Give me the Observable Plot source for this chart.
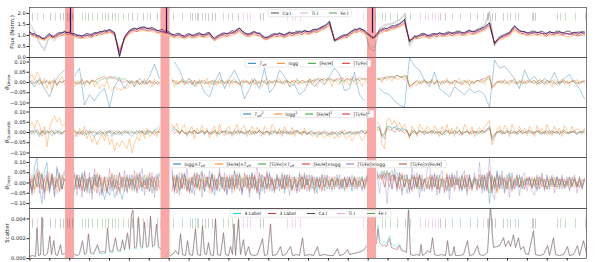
<!DOCTYPE html>
<html><head><meta charset="utf-8">
<script src="https://cdn.jsdelivr.net/npm/d3@7"></script>
<script src="https://cdn.jsdelivr.net/npm/@observablehq/plot@0.6"></script>
<style>
body{margin:0;background:#fff;}
#chart svg{display:block;}
</style>
</head><body><div id="chart"></div>
<script>
// ---------- DATA (spectral pixel units along x, 0..557) ----------
const bands = [[36,45],[131.5,140.5],[338,347]];
const spikePix = [41, 137, 343];
const caI = [3,21,31,34,38,40,43,59,79,83,103,114,128,163,169,173,176,179,183,186,209,231,234,376,411,416,459,463,466,474,503,504,506];
const tiI = [8,118,131,214,218,221,258,263,266,271,334,391,396,399,403,406,409,454];
const feI = [14,26,53,56,63,68,73,76,86,89,94,99,108,121,144,153,161,166,168,194,199,203,346,353,356,361,368,381,423,431,441,448,458,478,481,486,489,528,531,536,546,556];

const fluxTicks = [0,0.5,1,1.5,2];
const thetaTicks = [-0.1,-0.05,0,0.05,0.1];
const scatterTicks = [0,0.002,0.004];

// Panel 1: spectra (gray, M2, M4 every 5 px; M1, M3 every 2.5 px)
const fluxGray1 = [1.6,1.2,0.7,0.3,0.95,0.75,1.05,1.2,1.1,1.0,0.95,1.02,1.0,1.1,
1.12,1.18,1.22,1.05,0.02,0.85,1.2,1.32,1.35,1.38,1.3,1.25,1.18,1.15,
1.1,0.95,1.05,0.9,1.05,0.95,1.05,0.98,1.08,0.75,0.98,1.1,1.12,1.18,
1.35,1.08,1.02,1.18,1.05,0.85,0.92,1.05,1.1,0.98,1.15,1.12,1.18,1.22,
1.18,1.28,1.35,1.48,1.68,0.7,0.85,0.98,1.12,1.28,1.35,1.22,0.4,0.3,
1.3,1.45,1.5,1.55,1.7,2.0,0.5,0.9,1.0,1.08,0.95,1.05,1.12,1.02,
1.15,1.12,1.2,1.12,1.25,1.2,1.35,1.5,2.1,0.5,0.85,1.0,1.12,1.45,
1.22,1.18,1.1,1.18,1.15,1.05,1.18,1.12,1.18,1.12,1.05,1.15,1.18,1.12];
const fluxGray2 = [1.4,1.15,0.6,0.45,1.0,0.85,1.1,1.18,1.1,1.05,1.0,1.0,1.05,1.12,
1.15,1.22,1.28,1.12,0.05,0.9,1.22,1.3,1.33,1.36,1.32,1.27,1.2,1.15,
1.08,1.0,1.02,0.92,1.02,0.98,1.1,1.0,1.12,0.8,1.0,1.06,1.1,1.15,
1.32,1.12,1.05,1.15,1.1,0.88,0.95,1.02,1.1,1.02,1.12,1.1,1.15,1.2,
1.15,1.25,1.32,1.42,1.62,0.75,0.88,1.0,1.1,1.25,1.32,1.2,0.5,0.45,
1.35,1.5,1.55,1.6,1.72,1.9,0.6,0.92,1.0,1.05,0.98,1.05,1.1,1.05,
1.12,1.1,1.15,1.1,1.22,1.18,1.3,1.42,1.95,0.55,0.88,1.0,1.1,1.42,
1.2,1.15,1.12,1.15,1.12,1.08,1.15,1.1,1.15,1.1,1.05,1.12,1.15,1.1];
const fluxM1 = [1.19,1.05,1.09,0.98,0.99,0.85,0.89,1.0,1.09,0.92,0.99,1.08,1.14,1.1,1.19,1.12,1.16,1.08,1.09,1.0,
1.02,0.95,1.04,1.1,1.06,0.98,1.14,1.08,1.19,1.15,1.24,1.16,1.29,1.2,1.14,0.6,0.05,0.5,0.94,1.1,
1.24,1.3,1.34,1.25,1.36,1.38,1.39,1.3,1.34,1.36,1.32,1.22,1.24,1.28,1.19,1.22,1.14,1.05,1.04,1.1,
1.09,1.0,0.99,1.06,1.09,0.98,1.04,1.1,1.12,1.02,1.06,1.12,1.14,0.95,0.89,0.98,1.04,1.1,1.12,1.05,
1.14,1.22,1.19,1.28,1.34,1.2,1.14,1.05,1.09,1.15,1.19,1.08,1.12,1.0,0.94,0.9,0.99,1.05,1.09,1.02,
1.12,1.06,1.04,1.1,1.16,1.08,1.14,1.2,1.19,1.12,1.24,1.18,1.19,1.25,1.29,1.22,1.34,1.4,1.44,1.5,
1.64,1.2,0.75,0.85,0.94,1.0,1.04,0.98,1.14,1.2,1.29,1.22,1.34,1.28,1.24,1.12,1.04,0.9,0.94,1.1,
1.24,1.3,1.34,1.28,1.39,1.45,1.44,1.5,1.54,1.62,1.74,1.2,0.7,0.85,0.99,0.92,1.04,1.1,1.09,1.0,
1.02,1.08,1.09,1.02,1.14,1.06,1.09,1.15,1.16,1.08,1.14,1.2,1.19,1.1,1.14,1.2,1.24,1.16,1.19,1.26,
1.29,1.35,1.39,1.48,1.59,1.1,0.6,0.8,0.94,1.0,1.04,1.1,1.14,1.3,1.44,1.32,1.24,1.16,1.19,1.1,
1.14,1.2,1.19,1.1,1.16,1.2,1.12,1.05,1.19,1.12,1.14,1.2,1.19,1.1,1.14,1.2,1.19,1.12,1.14,1.06,
1.09,1.18,1.16];
const fluxM2 = [1.15,1.05,0.95,0.85,1.05,0.95,1.1,1.15,1.12,1.05,0.98,1.0,1.02,1.1,
1.15,1.2,1.25,1.1,0.1,0.9,1.2,1.3,1.32,1.35,1.3,1.28,1.2,1.15,
1.1,1.0,1.05,0.95,1.05,1.0,1.08,1.02,1.1,0.85,1.0,1.08,1.1,1.15,
1.3,1.1,1.05,1.15,1.08,0.9,0.95,1.05,1.08,1.0,1.12,1.1,1.15,1.2,
1.15,1.25,1.3,1.4,1.6,0.8,0.9,1.0,1.1,1.25,1.3,1.2,1.0,0.9,
1.2,1.3,1.35,1.4,1.5,1.7,0.75,0.95,1.0,1.05,0.98,1.05,1.1,1.05,
1.12,1.1,1.15,1.1,1.2,1.15,1.25,1.35,1.55,0.65,0.9,1.0,1.1,1.4,
1.2,1.15,1.1,1.15,1.12,1.08,1.15,1.1,1.15,1.1,1.05,1.12,1.15,1.1];
const fluxM3 = [1.09,1.02,0.99,0.94,0.91,0.86,0.82,0.92,0.99,0.94,0.9,0.98,1.04,1.0,1.09,1.04,1.06,1.0,0.99,0.95,
0.92,0.9,0.94,0.99,0.96,0.92,1.04,1.0,1.09,1.06,1.14,1.1,1.19,1.12,1.05,0.7,0.25,0.6,0.86,1.02,
1.14,1.2,1.24,1.18,1.26,1.28,1.29,1.22,1.24,1.26,1.22,1.15,1.14,1.18,1.09,1.12,1.04,0.98,0.94,1.0,
0.99,0.92,0.9,0.96,0.99,0.92,0.94,1.0,1.02,0.95,0.96,1.02,1.04,0.88,0.8,0.9,0.94,1.0,1.02,0.97,
1.04,1.1,1.09,1.16,1.24,1.12,1.04,0.98,0.99,1.05,1.09,1.0,1.02,0.92,0.85,0.84,0.9,0.96,0.99,0.94,
1.02,0.97,0.94,1.0,1.06,1.0,1.04,1.1,1.09,1.04,1.14,1.1,1.09,1.15,1.19,1.14,1.24,1.3,1.34,1.4,
1.52,1.15,0.78,0.8,0.85,0.92,0.94,0.9,1.04,1.1,1.19,1.14,1.24,1.2,1.14,1.05,0.96,0.86,0.88,1.0,
1.14,1.2,1.24,1.2,1.29,1.34,1.34,1.4,1.44,1.5,1.6,1.15,0.78,0.82,0.9,0.86,0.94,1.0,0.99,0.94,
0.92,0.98,0.99,0.95,1.04,0.98,0.99,1.05,1.06,1.0,1.04,1.1,1.09,1.02,1.04,1.1,1.14,1.08,1.09,1.15,
1.19,1.24,1.29,1.38,1.47,1.05,0.68,0.76,0.85,0.92,0.94,1.0,1.04,1.2,1.32,1.22,1.14,1.08,1.09,1.02,
1.04,1.1,1.09,1.02,1.06,1.1,1.02,0.97,1.09,1.04,1.04,1.1,1.09,1.02,1.04,1.1,1.09,1.03,1.04,0.98,
0.99,1.08,1.06];
const fluxM4 = [1.03,0.93,0.85,0.77,0.93,0.85,0.98,1.03,1.0,0.93,0.86,0.88,0.9,0.98,
1.03,1.08,1.13,1.0,0.35,0.8,1.08,1.18,1.2,1.23,1.18,1.16,1.08,1.03,
0.98,0.88,0.93,0.85,0.93,0.88,0.96,0.9,0.98,0.76,0.88,0.96,0.98,1.03,
1.18,0.98,0.93,1.03,0.96,0.8,0.85,0.93,0.96,0.88,1.0,0.98,1.03,1.08,
1.03,1.13,1.18,1.28,1.45,0.8,0.82,0.88,0.98,1.13,1.18,1.08,0.92,0.86,
1.08,1.18,1.23,1.28,1.38,1.52,0.8,0.85,0.88,0.93,0.86,0.93,0.98,0.93,
1.0,0.98,1.03,0.98,1.08,1.03,1.13,1.23,1.4,0.72,0.8,0.88,0.98,1.25,
1.08,1.03,0.98,1.03,1.0,0.96,1.03,0.98,1.03,0.98,0.93,1.0,1.03,0.98];

// Panel 2: theta linear (T_eff every 5 px, others every 2.5 px)
const linTeff = [.01,-.02,.02,-.03,-.07,.0,.04,.06,null,.03,.07,-.11,-.06,-.09,
-.05,-.03,-.12,-.02,.02,-.03,.01,-.02,.02,-.01,.03,.09,.02,null,
null,.1,.06,.0,.02,-.02,.01,-.05,-.07,.0,.05,-.03,.02,.06,
.01,-.08,-.03,.02,-.03,.07,-.05,-.02,.06,.03,-.02,-.01,-.06,-.04,
.01,-.02,.01,-.01,.03,.07,.04,-.04,-.03,.05,-.06,-.09,null,null,
-.03,-.05,-.06,-.09,-.11,-.12,.12,.08,.06,.01,-.02,.05,-.03,-.05,
-.07,-.02,-.04,-.06,-.03,-.05,-.04,-.06,-.12,.11,.07,.08,.05,.02,
-.03,.06,.01,.03,-.01,.02,.0,.05,-.01,.02,.04,.0,-.03,-.08];
const linLogg = [.02,.04,.01,.05,.03,-.01,.02,-.03,.01,-.04,.02,-.02,.01,.03,-.01,null,null,null,-.02,.01,
-.01,.02,-.02,.01,-.01,.015,-.02,.0,-.03,-.01,-.02,.01,-.03,-.04,-.02,-.035,-.03,-.04,-.02,-.03,
-.01,.005,-.02,.01,.0,-.015,.02,-.01,.01,-.02,.015,.0,-.01,null,null,null,null,.02,-.02,.01,
-.01,.02,-.015,.005,.02,-.01,.01,-.02,.015,.0,-.01,.02,-.02,.01,.005,-.015,.02,-.01,.0,.015,
-.02,.01,.02,-.01,.005,-.02,.015,.0,-.01,.02,-.015,.01,.0,-.02,.01,.02,-.01,.005,-.015,.01,
.02,-.01,.0,.015,-.02,.01,-.005,.02,-.01,.01,.0,-.015,.02,-.01,.01,-.02,.005,.015,-.01,.0,
.01,-.02,.015,.0,-.01,.02,-.005,.01,-.015,.02,.0,-.01,.01,-.02,.01,.0,null,null,null,.01,
.02,.0,.025,.01,.02,.005,.03,.015,.02,.03,.01,.035,-.03,-.02,.0,-.015,.01,-.01,.015,.0,
-.01,.015,-.005,.01,-.02,.01,.0,.02,-.01,.005,-.015,.01,.02,-.01,.0,.015,-.02,.01,-.005,.01,
.0,.015,-.01,.025,.035,-.03,-.02,.0,.01,-.01,.015,.0,-.015,.01,.02,-.01,.005,-.01,.01,.0,
.015,-.005,.01,-.015,.02,.0,-.01,.01,.005,-.02,.015,.0,-.01,.02,-.005,.01,-.015,.01,.0,.015,
-.01,.01,.005];
const linFeh = [.0,.01,-.005,.005,.01,-.01,.0,.005,-.005,.01,.0,-.01,.005,.0,.01,null,null,null,.0,-.005,
.005,-.01,.0,.01,-.005,.01,.005,.0,.01,.015,.02,.015,.025,.02,.03,.02,.025,.015,.02,.01,
.0,.01,-.005,.005,-.01,.0,.01,-.005,.005,.0,-.01,.005,.0,null,null,null,null,.01,.0,-.01,
.005,.0,.01,-.005,.0,.01,-.01,.005,.0,.01,-.005,.0,.005,-.01,.01,.0,-.005,.01,.0,.005,
-.005,.01,.0,.005,-.01,.005,.0,.01,-.005,.0,.01,.005,-.005,.0,.01,-.01,.005,.0,.01,.0,
.005,-.005,.01,.0,.005,-.01,.0,.01,.005,-.005,.0,.01,.0,.005,.015,.01,.02,.015,.01,.02,
.015,.01,.005,.015,.0,.01,.005,.02,.01,.015,.005,.02,.01,.015,.02,.01,null,null,null,.015,
.02,.01,.025,.02,.03,.025,.03,.035,.03,.025,.035,.03,-.015,-.01,.0,.005,-.005,.01,.0,.005,
.0,.01,-.005,.005,.0,-.01,.01,.0,.005,-.005,.01,.0,-.005,.005,.01,.0,-.01,.005,.0,.01,
.005,.0,.01,.015,.02,-.02,-.01,.0,.005,.0,.01,-.005,.0,.01,.005,-.005,.0,.01,.0,-.005,
.01,.0,-.005,.005,.01,.0,-.005,.01,.005,.0,-.01,.005,.0,.01,-.005,.005,.0,.01,.0,-.005,
.005,.0,.01];
const linTife = [.01,-.005,.0,.01,-.01,.005,.0,.01,-.005,.0,.01,-.01,.005,.0,.01,null,null,null,.005,-.01,
.0,.01,-.005,.005,.0,.01,.005,.015,.02,.025,.03,.02,.03,.025,.02,.015,.01,.005,.0,.01,
-.005,.005,.0,.01,-.01,.005,.0,-.005,.01,.0,.005,-.01,.0,null,null,null,null,.005,.01,-.005,
.0,.01,-.005,.0,.005,-.01,.01,.0,-.005,.005,.01,-.005,.0,.01,-.01,.005,.0,.01,-.005,.0,
.01,-.005,.005,.0,-.01,.01,.0,.005,-.005,.01,.0,-.01,.005,.01,.0,-.005,.01,.0,.005,.01,
.0,.005,-.005,.01,.0,.005,.01,-.005,.0,.01,.005,.0,.015,.01,.005,.02,.01,.015,.02,.01,
.02,.015,.01,.02,.015,.025,.01,.02,.015,.025,.02,.01,.025,.02,.015,.02,null,null,null,.02,
.015,.025,.02,.03,.025,.03,.02,.035,.03,.025,.03,.02,-.02,-.01,.0,.01,-.005,.0,.01,-.005,
.005,.0,-.01,.01,.0,.005,-.005,.01,.0,-.005,.01,.005,.0,-.01,.005,.0,.01,-.005,.0,.01,
.01,.015,.02,.025,.03,-.025,-.01,.005,.0,.01,-.005,.0,.01,.005,-.005,.0,.01,.0,-.005,.01,
.0,.005,.01,-.005,.0,.01,.005,-.005,.0,.01,.0,-.01,.005,.0,.01,-.005,.0,.005,.01,.0,
-.005,.005,.0];

// Panel 3: theta quadratic (every 2.5 px)
const quadTeff = [.01,-.01,.015,.0,-.02,.01,-.005,.01,.0,-.015,.005,.01,-.01,.0,.005,null,null,null,-.02,.0,
-.01,.005,-.015,.0,.01,-.005,-.02,.0,-.01,.005,-.015,-.005,.01,-.02,.0,-.01,.005,-.015,.0,.01,
-.01,-.02,.0,.01,-.005,.0,.01,-.01,.005,.0,.01,.02,.03,null,null,null,null,.03,.02,.01,
-.005,.01,.0,-.01,.005,.0,.01,-.005,.0,.01,-.01,.005,.0,-.005,.01,.0,-.01,.005,.0,.01,
.0,-.01,.005,.0,.01,-.005,.0,.01,-.01,.0,.005,-.005,.01,.0,-.01,.005,.0,-.005,.01,.0,
-.005,.0,.01,-.01,.005,.0,-.005,.01,.0,-.01,.005,.0,-.005,-.01,.0,-.015,-.005,-.01,.0,-.015,
-.005,-.01,.0,-.015,-.005,.0,-.01,-.005,.0,-.01,.005,-.005,.0,.01,-.005,.0,null,null,null,.02,
.03,-.02,-.03,.02,.03,.02,.025,.03,.01,.02,.015,.01,-.02,.0,.01,-.005,.01,.0,-.01,.005,
.0,.01,-.005,.0,.005,-.01,.0,.01,-.005,.0,.01,.0,-.01,.005,.0,.01,-.005,.0,.005,-.01,
.0,.01,.005,.015,.03,-.04,-.02,.0,.01,-.005,.0,.01,-.005,.0,.005,-.01,.0,.01,.0,-.005,
.01,.0,-.005,.005,.0,-.01,.005,.0,.01,-.005,.0,.005,-.01,.0,.01,.0,-.005,.005,.0,-.01,
.0,.005,-.005];
const quadLogg = [.03,.05,.02,.06,.04,-.02,.03,-.07,.02,.06,.08,.05,.07,.03,.04,null,null,null,.01,-.02,
.02,-.01,.03,-.03,.0,-.05,-.02,-.06,-.03,-.01,-.04,.0,-.06,-.03,-.09,-.05,-.07,-.04,-.06,-.08,
-.03,-.1,-.05,-.02,-.04,.01,-.03,.02,-.02,-.01,.01,-.02,.02,null,null,null,null,.04,.02,.045,
-.01,.02,.04,-.02,.01,.03,-.03,.02,.0,.035,-.01,.02,-.025,.01,.03,-.02,.04,.0,-.015,.02,
.03,-.02,.01,.04,-.01,.02,.035,-.02,.01,.03,-.01,.025,.0,-.02,.03,.01,-.015,.04,.02,-.01,
.02,-.02,.03,.0,-.01,.025,-.02,.01,.0,-.015,.02,-.01,.0,-.02,-.01,-.025,.0,-.015,-.03,-.01,
-.02,.0,-.03,-.015,-.025,.01,-.02,-.03,-.01,-.04,-.02,.0,-.015,-.04,-.02,.01,null,null,null,.05,
.04,-.06,-.08,.06,.07,.04,.06,.03,.05,.02,.04,.01,-.03,.03,.01,-.02,.04,.02,-.01,.03,
.02,-.01,.035,.01,-.02,.03,.0,.04,-.01,.02,-.02,.03,.01,-.015,.04,.02,-.01,.03,-.02,.01,
.025,.0,.03,.04,.06,-.06,-.03,.01,.03,-.01,.035,.02,-.02,.04,.01,-.01,.03,.0,.02,-.015,
.03,.01,-.02,.035,.0,.02,-.01,.04,.01,-.015,.03,.0,.02,-.02,.035,.01,-.01,.03,.0,.02,
.01,-.01,.02];
const quadFeh = [.0,.01,-.005,.005,-.01,.0,.01,-.005,.0,.01,-.01,.005,.0,-.005,.01,null,null,null,.0,.005,
-.005,.01,.0,-.01,.005,.0,.01,-.005,.0,-.01,.005,.0,.01,-.005,.0,.01,-.01,.005,.0,-.005,
.01,.0,-.005,.005,.0,.01,-.01,.005,.0,-.005,.01,.0,.005,null,null,null,null,.02,.01,.015,
-.005,.01,.0,-.01,.005,.0,.01,-.005,.0,.01,-.005,.005,.0,-.01,.01,.0,-.005,.005,.01,.0,
-.005,.0,.01,-.005,.0,.005,-.01,.0,.01,.005,-.005,.0,.01,-.005,.0,.005,.0,-.01,.005,.0,
.01,-.005,.0,.005,-.01,.0,.01,.0,-.005,.005,.0,-.01,.005,.0,-.005,.0,-.01,.005,-.005,.0,
-.01,.0,-.005,.005,-.01,.0,-.005,.0,.005,-.01,.0,.005,-.005,.0,.01,.005,null,null,null,.025,
.02,-.02,-.01,.03,.03,.02,.025,.015,.02,.01,.015,.005,-.015,.01,.0,-.005,.01,.0,.005,-.005,
.005,.0,.01,-.005,.0,.005,-.01,.0,.01,.005,-.005,.0,.01,-.005,.0,.005,.0,-.01,.005,.0,
.01,-.005,.0,.01,.02,-.02,-.01,.0,.005,.0,-.005,.01,.0,-.005,.005,.0,.01,-.005,.0,.005,
-.005,.005,.0,.01,-.005,.0,.005,-.01,.0,.01,.0,-.005,.005,.0,.01,-.005,.0,.005,.0,-.005,
.005,.0,.005];
const quadTife = [-.01,.01,.0,.015,-.005,.01,-.01,.005,.0,.01,-.005,.0,.01,-.01,.005,null,null,null,.01,-.005,
.005,-.01,.0,.01,-.005,.005,.0,-.01,.01,.0,-.005,.005,.0,.01,-.01,.0,.005,-.005,.01,.0,
-.005,.005,.0,-.01,.01,.0,-.005,.005,.01,.0,-.01,.005,.0,null,null,null,null,.01,-.005,.005,
.0,.01,-.005,.0,.005,-.01,.01,.0,-.005,.005,.0,.01,-.01,.005,.0,-.005,.01,.0,.005,-.01,
.005,.0,-.01,.01,.0,.005,-.005,.0,.01,-.01,.005,.0,.01,-.005,.0,.005,-.01,.01,.0,-.005,
.0,.01,-.005,.005,.0,-.01,.005,.01,-.005,.0,.005,-.01,.0,.01,-.005,.0,.005,-.005,.01,.0,
-.005,.005,.0,-.01,.005,.0,.01,-.005,.0,.005,-.01,.0,.005,.01,-.005,.0,null,null,null,.01,
.015,-.015,.0,.02,.01,.015,.0,.02,.005,.01,-.005,.01,-.02,.0,.01,-.01,.005,.0,.01,-.005,
.0,.01,-.005,.005,.0,-.01,.005,.01,.0,-.005,.005,.0,.01,-.01,.0,.005,-.005,.01,.0,.005,
-.005,.01,.0,.015,.02,-.03,-.01,.005,.0,.01,-.005,.0,.005,.01,-.005,.0,.01,-.005,.0,.005,
.01,-.005,.0,.005,.01,-.005,.0,.01,-.01,.005,.0,.005,-.005,.01,.0,-.005,.005,.0,.01,-.005,
.0,.005,.01];

// Panel 4: theta cross (every 2.5 px)
const crossLoggTeff = [.03,-.05,.08,.12,-.02,-.1,.06,.1,-.04,.02,-.06,.07,.03,-.03,.05,null,null,null,-.02,.04,
-.03,.05,-.04,.02,-.05,.03,-.01,.04,-.06,-.02,-.08,-.03,-.06,.01,-.07,-.04,-.02,-.08,-.03,.02,
-.02,.04,-.03,.01,.05,-.04,.02,-.01,.03,-.05,.02,.04,.05,null,null,null,null,.06,-.03,.04,
-.04,.02,.05,-.03,.01,-.05,.04,-.02,.03,.06,-.04,.01,-.03,.05,-.06,.02,.04,-.02,.03,-.05,
.02,-.03,.06,-.01,.04,-.05,.02,.03,-.04,.05,-.02,.01,-.06,.04,.02,-.03,.05,-.04,.01,.03,
-.02,.04,-.05,.02,.03,-.03,.01,-.04,.05,-.02,.03,-.01,.04,-.03,.02,-.05,.03,.01,-.02,.04,
-.03,.02,.01,-.02,.04,-.03,.02,-.01,.03,-.04,.02,.01,-.02,.03,-.03,.02,null,null,null,.04,
.03,.05,.02,.06,.01,.04,.03,-.02,.05,.02,.04,-.05,.02,-.03,.04,-.02,.03,-.04,.02,.01,
-.03,.04,-.02,.03,-.05,.02,.01,-.03,.04,-.02,.03,-.01,.02,-.04,.03,-.02,.04,-.03,.01,.02,
-.02,.03,-.04,.05,-.1,.04,-.03,.06,-.02,.03,-.04,.02,.05,-.03,.01,-.02,.04,-.03,.02,-.01,
.03,-.02,.02,-.04,.03,.01,-.02,.04,-.03,.02,-.01,.03,-.02,.02,-.03,.01,.03,-.02,.02,-.01,
.02,-.03,.01];
const crossFehTeff = [-.02,.04,-.05,.03,.06,-.03,.02,-.04,.05,-.01,.03,-.05,.02,.04,-.03,null,null,null,.03,-.02,
.04,-.03,.02,-.05,.03,.01,-.04,.05,-.02,.03,-.04,.02,-.01,.05,-.03,.02,-.05,.03,.01,-.02,
.03,-.04,.02,.05,-.02,.01,-.03,.04,-.01,.02,-.04,.03,-.02,null,null,null,null,-.03,.04,-.02,
.05,-.03,.02,-.04,.03,.01,-.02,.05,-.04,.02,-.01,.03,-.05,.02,.04,-.03,.01,.03,-.02,.04,
-.03,.02,-.04,.05,-.01,.03,-.02,.04,-.05,.02,.03,-.03,.04,-.02,.01,.05,-.04,.02,-.03,.01,
.03,-.02,.04,-.03,.01,.02,-.04,.03,-.01,.04,-.03,.02,-.02,.03,-.04,.01,.02,-.03,.04,-.01,
.02,-.03,.03,-.01,.02,-.02,.03,-.03,.01,.02,-.02,.03,-.01,.02,-.03,.01,null,null,null,.03,
.02,.04,-.02,.05,.03,.01,.04,-.03,.02,.05,-.02,.03,-.04,.02,.03,-.01,.04,-.03,.02,-.02,
.04,-.03,.02,.01,-.04,.03,-.02,.05,-.01,.03,-.04,.02,.01,-.03,.04,-.02,.02,-.04,.03,.01,
-.03,.04,.02,-.02,.05,-.04,.03,-.05,.02,.04,-.02,.01,-.03,.03,-.01,.04,-.02,.02,-.03,.03,
-.02,.03,-.01,.02,-.03,.04,-.02,.01,.03,-.02,.02,-.03,.01,.03,-.02,.02,-.01,.03,-.02,.01,
-.02,.02,.01];
const crossTifeTeff = [.01,-.03,.04,-.02,.03,.05,-.04,.02,-.03,.04,.01,-.02,.05,-.03,.02,null,null,null,-.04,.03,
-.02,.04,.01,-.03,.02,-.05,.04,-.01,.03,-.02,.01,-.04,.03,.02,-.03,.04,-.01,.02,-.04,.03,
-.01,.02,-.04,.03,.01,-.02,.04,-.03,.02,.01,-.03,.02,.04,null,null,null,null,.04,-.02,.03,
-.03,.04,-.01,.02,-.04,.03,.02,-.02,.04,-.03,.01,.03,-.02,.04,-.01,.02,-.04,.03,.01,-.02,
.03,-.01,.02,-.03,.04,.01,-.02,.03,-.01,.04,-.03,.02,.01,-.04,.03,-.02,.02,.01,-.03,.04,
-.01,.02,-.03,.04,-.02,.01,.03,-.02,.02,-.03,.04,-.01,.02,.01,-.03,.03,-.02,.01,.02,-.03,
.01,.02,-.02,.03,-.01,.02,-.03,.02,.01,-.02,.03,-.01,.02,.03,-.02,.04,null,null,null,.05,
.04,.06,.03,.05,.04,.06,.02,.05,.01,.03,-.02,.04,-.01,.03,.02,-.03,.04,-.02,.01,.03,
-.02,.03,.01,-.03,.04,-.02,.02,.03,-.04,.02,-.01,.03,-.02,.04,-.03,.01,.02,-.02,.03,-.01,
.02,-.03,.04,-.01,-.05,.03,-.02,.04,-.03,.02,.01,-.03,.04,-.02,.02,-.01,.03,-.02,.01,.02,
-.01,.02,-.02,.03,-.01,.02,.01,-.03,.02,-.01,.03,-.02,.02,-.01,.01,-.02,.03,-.01,.02,-.02,
.01,-.01,.02];
const crossFehLogg = [-.04,.02,-.03,.05,-.02,.04,-.05,.03,-.01,.04,-.03,.02,-.04,.03,.01,null,null,null,.04,-.03,
.02,-.04,.05,-.02,.03,-.03,.02,-.05,.04,-.01,.03,-.04,.02,-.02,.04,-.03,.05,-.02,.03,-.04,
.02,-.01,.03,-.04,.04,-.02,.01,-.03,.05,-.02,.03,-.04,.01,null,null,null,null,-.04,.03,-.05,
.02,-.03,.04,.01,-.05,.03,-.02,.04,-.03,.05,-.02,.01,.03,-.04,.02,-.03,.05,-.01,-.04,.03,
-.02,.04,-.03,.02,.01,-.04,.05,-.02,.03,-.03,.04,-.05,.02,.01,-.03,.04,-.02,.03,-.04,.02,
.01,-.03,.03,-.02,.04,-.03,.02,.01,-.04,.03,-.02,.04,-.03,.01,.03,-.02,.02,-.04,.03,.01,
-.02,.03,-.01,.02,-.03,.01,.02,-.02,.03,-.01,.02,-.03,.01,.02,-.01,.03,null,null,null,.02,
.04,.02,.05,.03,-.02,.04,.01,.03,-.03,.04,-.02,.02,.01,-.04,.03,-.02,.04,-.01,.02,-.03,
.03,-.02,.04,-.03,.02,.01,-.04,.03,-.02,.04,-.01,.02,-.03,.03,-.02,.04,-.03,.01,.02,-.03,
.04,-.02,.03,-.04,.06,-.03,.02,-.04,.03,-.01,.03,-.03,.02,.01,-.03,.02,-.02,.03,-.01,.02,
.02,-.03,.02,-.01,.03,-.02,.02,-.03,.01,.02,-.02,.03,-.01,.02,-.02,.01,-.03,.02,.01,-.02,
.03,-.02,.02];
const crossTifeLogg = [.05,-.06,.03,.07,-.05,.04,-.08,.06,-.03,.05,-.07,.08,-.04,.02,.06,null,null,null,.05,-.06,
.03,-.07,.06,-.04,.05,-.08,.07,-.02,.04,-.06,.03,-.05,.07,-.04,.02,-.06,.05,-.03,.06,-.05,
.04,-.03,.06,-.05,.02,.07,-.06,.03,-.04,.05,-.07,.04,-.03,null,null,null,null,.07,-.05,.04,
-.06,.05,-.03,.07,-.04,.02,-.06,.05,.03,-.07,.04,-.02,.06,-.05,.03,-.04,.07,-.03,.05,-.06,
.04,-.05,.06,-.02,.05,-.06,.03,.04,-.07,.05,-.03,.1,-.08,.04,-.05,.06,-.03,.02,-.05,.04,
-.04,.05,-.03,.04,-.06,.03,.02,-.05,.04,-.03,.05,-.04,.02,.04,-.05,.03,-.02,.04,-.04,.03,
.03,-.04,.02,.04,-.03,.02,-.04,.03,-.02,.04,-.03,.01,.03,-.04,.02,.03,null,null,null,.06,
-.05,.04,.06,-.1,.05,-.03,.07,-.04,.05,-.06,.03,.04,-.05,.08,-.03,.05,-.07,.04,-.04,.06,
.1,-.04,.05,-.06,.03,.06,-.05,.04,-.08,.05,-.03,.06,-.04,.03,.06,-.06,.04,-.03,.05,-.04,
.1,-.05,.04,-.03,.12,-.04,-.08,.05,-.03,.06,-.05,.04,-.07,.05,-.03,.04,-.06,.03,.05,-.04,
.03,-.04,-.06,.04,-.03,.05,-.04,.03,-.02,.04,-.05,.03,-.03,.04,-.02,.03,-.04,.02,.04,-.05,
.03,-.03,.02];
const crossTifeFeh = [.02,-.04,.03,-.02,.05,-.03,.02,.04,-.05,.03,-.02,.01,.04,-.03,.02,null,null,null,-.03,.04,
-.02,.03,-.04,.02,.01,-.03,.04,-.02,.03,-.05,.02,.03,-.03,.04,-.02,.01,-.04,.03,-.02,.04,
-.03,.02,-.02,.04,-.03,.03,-.01,.02,-.04,.03,.01,-.02,.04,null,null,null,null,.03,-.04,.02,
.03,-.02,.04,-.04,.02,-.01,.05,-.03,.02,.01,-.04,.03,-.02,.04,-.03,.02,-.01,.03,-.04,.02,
-.03,.03,-.02,.04,-.04,.02,.01,-.03,.04,-.02,.03,-.04,.05,-.02,.03,-.03,.04,-.01,.02,-.03,
.02,-.03,.04,-.01,.02,-.04,.03,-.02,.01,.03,-.03,.02,-.04,.03,-.01,.02,-.03,.04,-.02,.02,
-.01,.02,-.03,.02,.01,-.02,.03,-.02,.02,-.01,.03,-.02,.01,-.03,.02,.01,null,null,null,.04,
.02,.04,-.02,.03,.05,-.03,.04,-.02,.03,-.04,.02,.01,-.03,.04,-.02,.03,-.03,.02,.01,-.02,
-.03,.03,-.02,.04,-.03,.02,.01,-.04,.03,-.02,.04,-.01,.03,-.03,.02,-.04,.03,-.02,.02,.01,
-.02,.04,-.03,.02,.05,-.05,.03,-.02,.04,-.03,.02,-.01,.03,-.04,.02,.03,-.02,.01,-.03,.02,
.02,-.02,.03,-.03,.01,.02,-.03,.02,-.01,.03,-.02,.01,.02,-.03,.02,-.01,.02,-.02,.03,-.01,
-.02,.01,.02];

// Panel 5: scatter, [pixel, value] pairs (null = detector gap)
const scatter3 = [[0,.0002],[3,.0003],[6,.0002],[7.5,.0031],[9,.0003],[11,.0004],[12.5,.0042],[14,.0004],[16,.0003],[18,.0005],[20.3,.0023],[22,.0004],[24.3,.0018],[26,.0004],[28,.0003],[31,.0014],[32.5,.0004],[35,.0005],[40,null],
[45,.0004],[48,.0003],[50,.0005],[53,.0018],[55,.0004],[57,.0006],[59,.0025],[61,.0006],[64,.0005],[68,.0014],[70,.0006],
[73,.0007],[76,.0006],[78,.0031],[80,.0008],[83,.0007],[86,.0021],[88,.0009],[91,.0008],[93,.0019],[95,.0009],[98,.0026],[100,.001],[102,.0045],[103.5,.0049],[105,.0011],[107,.0012],[109,.0042],[111,.0013],[113,.0011],[115,.0037],[117,.0012],[119,.0013],[121,.0043],[123,.0012],[125,.0014],[127,.0035],[129,.0012],[131,.001],[136,null],
[141,.0003],[144,.0005],[146,.0008],[149,.0004],[151,.0025],[153,.0004],[156,.0003],[158,.0018],[160,.0004],[163,.0003],[166,.003],[168,.0004],[171,.0003],[173,.0033],[175,.0005],[177,.0004],[179,.0016],[181,.0004],[184,.0003],[186,.004],[188,.0004],[191,.0003],[194,.0026],[196,.0004],[199,.0003],[201,.0012],[203,.0004],[204.5,.0035],[206,.0003],[209,.004],[211,.0004],[214,.0019],[216,.0003],[219,.0012],[221,.0004],[225,.0003],[228,.0004],[233,.002],[235,.0003],[238,.0004],[241,.0035],[243,.0003],[247,.0004],[251,.0012],[253,.0003],[256,.0004],[261,.0012],[263,.0003],[267,.0004],[270,.0003],[273,.0021],[275,.0003],[280,.0004],[284,.0003],[288,.0012],[290,.0003],[295,.0004],[300,.0003],[304,.0003],[308,.001],[310,.0003],[314,.0004],[318,.0009],[320,.0004],[324,.0005],[328,.0006],[332,.0007],[335,.0009],[337,.0012],[342,null],
[347,.0015],[348.5,.003],[350,.0016],[353,.0013],[355,.0014],[357,.0012],[360,.002],[362,.0011],[365,.001],[368,.0009],[370,.0013],[372,.0008],[375,.0007],[377,.0006],[379,.0049],[381,.0004],[384,.0003],[387,.0004],[390,.0003],[391.5,.0014],[393,.0003],[396,.0005],[398,.0008],[401,.0006],[403,.0021],[405,.0004],[408,.0003],[412,.0004],[416,.0003],[418,.0018],[420,.0003],[423,.0004],[424.5,.0012],[426,.0003],[430,.0003],[434,.0004],[438,.0018],[440,.0003],[444,.0004],[448,.0013],[450,.0004],[454,.0003],[458,.0006],[461,.0052],[462.5,.0028],[464,.0011],[467,.0012],[470,.0013],[474,.0021],[476,.0012],[479,.0018],[481,.0012],[484,.0024],[486,.0011],[489,.0021],[491,.0009],[494,.0012],[496,.0005],[499,.0004],[504,.0028],[506,.0004],[510,.0003],[514,.0004],[518,.0013],[520,.0003],[524,.0021],[526,.0004],[530,.0003],[534,.0004],[538,.0012],[540,.0003],[544,.0004],[548,.0013],[550,.0003],[554,.0018],[557,.0005]];
const scatter4 = [[0,.0002],[3,.0003],[6,.0002],[7.5,.003],[9,.0003],[11,.0004],[12.5,.0041],[14,.0004],[16,.0003],[18,.0005],[20.3,.0022],[22,.0004],[24.3,.0018],[26,.0004],[28,.0003],[31,.0014],[32.5,.0004],[35,.0005],[40,null],
[45,.0004],[48,.0003],[50,.0004],[53,.0017],[55,.0004],[57,.0005],[59,.0024],[61,.0005],[64,.0004],[68,.0013],[70,.0005],
[73,.0005],[76,.0005],[78,.003],[80,.0006],[83,.0006],[86,.002],[88,.0007],[91,.0007],[93,.0018],[95,.0008],[98,.0025],[100,.0009],[102,.0044],[103.5,.0048],[105,.001],[107,.001],[109,.0041],[111,.0011],[113,.001],[115,.0036],[117,.0011],[119,.0012],[121,.0042],[123,.0011],[125,.0013],[127,.0034],[129,.0011],[131,.0009],[136,null],
[141,.0003],[144,.0005],[146,.0008],[149,.0004],[151,.0025],[153,.0004],[156,.0003],[158,.0018],[160,.0004],[163,.0003],[166,.003],[168,.0004],[171,.0003],[173,.0033],[175,.0005],[177,.0004],[179,.0016],[181,.0004],[184,.0003],[186,.004],[188,.0004],[191,.0003],[194,.0026],[196,.0004],[199,.0003],[201,.0012],[203,.0004],[204.5,.0035],[206,.0003],[209,.004],[211,.0004],[214,.0019],[216,.0003],[219,.0012],[221,.0004],[225,.0003],[228,.0004],[233,.002],[235,.0003],[238,.0004],[241,.0035],[243,.0003],[247,.0004],[251,.0012],[253,.0003],[256,.0004],[261,.0012],[263,.0003],[267,.0004],[270,.0003],[273,.0021],[275,.0003],[280,.0004],[284,.0003],[288,.0012],[290,.0003],[295,.0004],[300,.0003],[304,.0003],[308,.001],[310,.0003],[314,.0004],[318,.0009],[320,.0004],[324,.0005],[328,.0006],[332,.0008],[335,.001],[337,.0014],[342,null],
[347,.0019],[348.5,.0034],[350,.002],[353,.0016],[355,.0017],[357,.0015],[360,.0023],[362,.0014],[365,.0013],[368,.0011],[370,.0015],[372,.001],[375,.0008],[377,.0007],[379,.0056],[381,.0004],[384,.0003],[387,.0004],[390,.0003],[391.5,.0014],[393,.0003],[396,.0005],[398,.0008],[401,.0006],[403,.0021],[405,.0004],[408,.0003],[412,.0004],[416,.0003],[418,.0018],[420,.0003],[423,.0004],[424.5,.0012],[426,.0003],[430,.0003],[434,.0004],[438,.0018],[440,.0003],[444,.0004],[448,.0013],[450,.0004],[454,.0003],[458,.0006],[461,.0058],[462.5,.0031],[464,.0012],[467,.0012],[470,.0013],[474,.0021],[476,.0012],[479,.0018],[481,.0012],[484,.0024],[486,.0011],[489,.0021],[491,.0009],[494,.0012],[496,.0005],[499,.0004],[504,.0028],[506,.0004],[510,.0003],[514,.0004],[518,.0013],[520,.0003],[524,.0021],[526,.0004],[530,.0003],[534,.0004],[538,.0012],[540,.0003],[544,.0004],[548,.0013],[550,.0003],[554,.0018],[557,.0005]];

// ---------- LAYOUT ----------
const W = 598, ML = 29, MR = 12;
const xDomain = [0, 557];
const xTicks = d3.range(0.4, 557, 19.9);
const FONT = "'DejaVu Sans', sans-serif";
const grid = (arr, step) => arr.map((v, i) => ({x: i * step, v}));
const pairs = arr => arr.map(([x, v]) => ({x, v}));
const colCa = "#4a4a4a", colTi = "#e3a6e3", colFe = "#5b9e5b";
const tab = {blue:"#1f77b4", orange:"#ff7f0e", green:"#2ca02c", red:"#d62728", purple:"#9467bd", brown:"#8c564b"};

function panel({height, mt = 0, mb = 0, yDomain, yTicks, fmt, series, under = [], over = [], bottom = false}) {
  const marks = [
    Plot.rect(bands, {x1: d => d[0], x2: d => d[1], y1: yDomain[0], y2: yDomain[1], fill: "#f9a8a8"}),
    ...under,
    ...series.map(s => Plot.line(s.rows, {x: "x", y: "v", stroke: s.color, strokeWidth: s.w ?? 0.55, strokeOpacity: s.op ?? 0.8, clip: true})),
    ...over,
    Plot.axisY({ticks: yTicks, tickFormat: fmt, tickSize: 2.5, tickPadding: 1.2, label: null}),
    Plot.frame({stroke: "#444", strokeWidth: 0.7})
  ];
  if (bottom) marks.push(Plot.axisX({ticks: xTicks, tickFormat: () => "", tickSize: 2.5, label: null}));
  return Plot.plot({
    width: W, height, marginLeft: ML, marginRight: MR, marginTop: mt, marginBottom: mb,
    x: {domain: xDomain, axis: null}, y: {domain: yDomain, axis: null},
    style: {fontSize: "5.2px", fontFamily: FONT, background: "transparent", overflow: "visible", color: "#222"},
    marks
  });
}

function rich(t, parts) {
  let off = 0;
  for (const [s, k] of parts) {
    const target = k === "sub" ? 1.2 : k === "sup" ? -1.7 : 0;
    const ts = t.append("tspan").attr("dy", target - off).text(s);
    off = target;
    if (k === "sub" || k === "sup") ts.attr("font-size", "72%");
    if (k === "i") ts.attr("font-style", "italic");
  }
}
function ylabel(svg, x, y, parts) {
  const t = d3.select(svg).append("text").attr("transform", `translate(${x},${y}) rotate(-90)`)
    .attr("text-anchor", "middle").attr("dominant-baseline", "middle")
    .attr("font-size", 5.4).attr("font-family", FONT).attr("fill", "#222");
  rich(t, parts);
}
function legend(svg, box, items) {
  const g = d3.select(svg).append("g").attr("font-size", 4.5).attr("font-family", FONT).attr("text-anchor", "start");
  g.append("rect").attr("x", box.x1).attr("y", box.cy - 3.7).attr("width", box.x2 - box.x1).attr("height", 7.4)
    .attr("rx", 1).attr("fill", "white").attr("fill-opacity", 0.85).attr("stroke", "#d0d0d0").attr("stroke-width", 0.5);
  for (const it of items) {
    g.append("line").attr("x1", it.x).attr("x2", it.x + 8).attr("y1", box.cy).attr("y2", box.cy)
      .attr("stroke", it.color).attr("stroke-width", 1);
    const t = g.append("text").attr("x", it.x + 11.5).attr("y", box.cy + 1.6).attr("fill", "#222").attr("text-anchor", "start");
    rich(t, it.parts);
  }
}
const TE = [["T","i"],["eff","sub"]];

const lineList = (y1, y2) => [
  Plot.ruleX(feI, {x: d => d, y1, y2, stroke: colFe, strokeOpacity: 0.42, strokeWidth: 0.8}),
  Plot.ruleX(tiI, {x: d => d, y1, y2, stroke: colTi, strokeOpacity: 0.55, strokeWidth: 0.8}),
  Plot.ruleX(caI, {x: d => d, y1, y2, stroke: colCa, strokeOpacity: 0.35, strokeWidth: 0.8})
];

const chart = document.getElementById("chart");

// Panel 1
const p1 = panel({height: 57, mt: 7, yDomain: [0, 2.27], yTicks: fluxTicks, fmt: d3.format(".1f"),
  under: lineList(1.65, 2.0),
  series: [
    {rows: grid(fluxGray1, 5), color: "#555", w: 0.5, op: 0.5},
    {rows: grid(fluxGray2, 5), color: "#777", w: 0.5, op: 0.5},
    {rows: grid(fluxM4, 5), color: d3.interpolateMagma(0.88), w: 1.1, op: 0.9},
    {rows: grid(fluxM3, 2.5), color: d3.interpolateMagma(0.62), w: 0.9, op: 0.9},
    {rows: grid(fluxM2, 5), color: d3.interpolateMagma(0.35), w: 0.8, op: 0.85},
    {rows: grid(fluxM1, 2.5), color: d3.interpolateMagma(0.1), w: 0.7, op: 0.9}
  ],
  over: [Plot.ruleX(spikePix, {x: d => d, y1: 1.1, y2: 2.27, stroke: "#2a0f5e", strokeWidth: 1.2, clip: true})]
});
ylabel(p1, 13, 32, [["Flux (Norm.)","n"]]);
legend(p1, {x1: 268, x2: 351, cy: 13}, [
  {x: 271, color: colCa, parts: [["Ca I","n"]]},
  {x: 300, color: colTi, parts: [["Ti I","n"]]},
  {x: 329, color: colFe, parts: [["Fe I","n"]]}
]);
chart.appendChild(p1);

// Panel 2
const p2 = panel({height: 50, yDomain: [-0.122, 0.122], yTicks: thetaTicks, fmt: d3.format(".2f"),
  series: [
    {rows: grid(linTeff, 5), color: tab.blue, op: 0.7},
    {rows: grid(linLogg, 2.5), color: tab.orange, op: 0.7, w: 0.5},
    {rows: grid(linFeh, 2.5), color: tab.green, op: 0.75, w: 0.5},
    {rows: grid(linTife, 2.5), color: tab.red, op: 0.75, w: 0.5}
  ]});
ylabel(p2, 8, 25, [["θ","i"],["Linear","sub"]]);
legend(p2, {x1: 245, x2: 371, cy: 6.3}, [
  {x: 248, color: tab.blue, parts: TE},
  {x: 277, color: tab.orange, parts: [["logg","n"]]},
  {x: 308, color: tab.green, parts: [["[Fe/H]","n"]]},
  {x: 342, color: tab.red, parts: [["[Ti/Fe]","n"]]}
]);
chart.appendChild(p2);

// Panel 3
const p3 = panel({height: 50, yDomain: [-0.122, 0.122], yTicks: thetaTicks, fmt: d3.format(".2f"),
  series: [
    {rows: grid(quadTeff, 2.5), color: tab.blue, op: 0.7, w: 0.5},
    {rows: grid(quadLogg, 2.5), color: tab.orange, op: 0.75, w: 0.5},
    {rows: grid(quadFeh, 2.5), color: tab.green, op: 0.75, w: 0.5},
    {rows: grid(quadTife, 2.5), color: tab.red, op: 0.75, w: 0.5}
  ]});
ylabel(p3, 8, 25, [["θ","i"],["Quadratic","sub"]]);
legend(p3, {x1: 241, x2: 374, cy: 7}, [
  {x: 243, color: tab.blue, parts: [...TE, ["2","sup"]]},
  {x: 274, color: tab.orange, parts: [["logg","n"],["2","sup"]]},
  {x: 305, color: tab.green, parts: [["[Fe/H]","n"],["2","sup"]]},
  {x: 342, color: tab.red, parts: [["[Ti/Fe]","n"],["2","sup"]]}
]);
chart.appendChild(p3);

// Panel 4
const p4 = panel({height: 51, yDomain: [-0.124, 0.124], yTicks: thetaTicks, fmt: d3.format(".2f"),
  series: [
    {rows: grid(crossLoggTeff, 2.5), color: tab.blue, op: 0.65, w: 0.5},
    {rows: grid(crossFehTeff, 2.5), color: tab.orange, op: 0.65, w: 0.5},
    {rows: grid(crossTifeTeff, 2.5), color: tab.green, op: 0.65, w: 0.5},
    {rows: grid(crossFehLogg, 2.5), color: tab.red, op: 0.65, w: 0.5},
    {rows: grid(crossTifeLogg, 2.5), color: tab.purple, op: 0.65, w: 0.5},
    {rows: grid(crossTifeFeh, 2.5), color: tab.brown, op: 0.65, w: 0.5}
  ]});
ylabel(p4, 8, 25.5, [["θ","i"],["Cross","sub"]]);
legend(p4, {x1: 170, x2: 446, cy: 7}, [
  {x: 173, color: tab.blue, parts: [["logg×","n"], ...TE]},
  {x: 215, color: tab.orange, parts: [["[Fe/H]×","n"], ...TE]},
  {x: 258, color: tab.green, parts: [["[Ti/Fe]×","n"], ...TE]},
  {x: 302, color: tab.red, parts: [["[Fe/H]×logg","n"]]},
  {x: 346, color: tab.purple, parts: [["[Ti/Fe]×logg","n"]]},
  {x: 399, color: tab.brown, parts: [["[Ti/Fe]×[Fe/H]","n"]]}
]);
chart.appendChild(p4);

// Panel 5
const p5 = panel({height: 54, mb: 4, yDomain: [0, 0.00505], yTicks: scatterTicks, fmt: d3.format(".3f"),
  under: lineList(0.003, 0.004),
  series: [
    {rows: pairs(scatter4), color: "#22d3e0", w: 0.45, op: 0.9},
    {rows: pairs(scatter3), color: "#b85a5a", w: 0.65, op: 0.9}
  ], bottom: true});
ylabel(p5, 8, 25, [["Scatter","n"]]);
legend(p5, {x1: 230, x2: 391, cy: 5.5}, [
  {x: 233, color: "#22d3e0", parts: [["4 Label","n"]]},
  {x: 268, color: "#c83737", parts: [["3 Label","n"]]},
  {x: 307, color: colCa, parts: [["Ca I","n"]]},
  {x: 337, color: colTi, parts: [["Ti I","n"]]},
  {x: 367, color: colFe, parts: [["Fe I","n"]]}
]);
chart.appendChild(p5);
</script></body></html>
